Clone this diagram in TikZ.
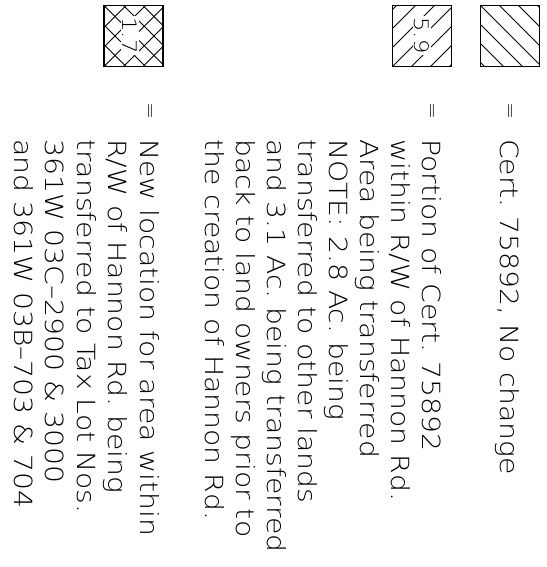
\documentclass[tikz,border=0pt]{standalone}
\usepackage{fontspec}
\newfontfamily\cad{DejaVu Sans ExtraLight}[FakeStretch=1.13]
\usetikzlibrary{calc}
\begin{document}
\begin{tikzpicture}[x=1pt,y=1pt,
  legtext/.style={rotate=-90,anchor=base west,inner sep=0pt,font=\cad\fontsize{25}{31}\selectfont},
  eqsign/.style={rotate=-90,anchor=center,inner sep=0pt,font=\cad\fontsize{18}{18}\selectfont},
  legbox/.style={draw,line width=1.5pt,minimum width=59pt,minimum height=61pt,inner sep=0pt},
  hatchline/.style={line width=0.8pt},
  boxlabel/.style={rotate=-90,anchor=center,inner sep=1.5pt,fill=white,font=\cad\fontsize{20}{20}\selectfont},
  backhatch/.style={path picture={\foreach \k in {-4,...,3}{\draw[hatchline] ($(path picture bounding box.north west)+(\k*19,0)$) -- ++(90,-90);}}},
  fwdhatch/.style={path picture={\foreach \k in {-4,...,3}{\draw[hatchline] ($(path picture bounding box.south west)+(\k*19,0)$) -- ++(90,90);}}},
  crosshatch/.style={path picture={\foreach \k in {-4,...,3}{\draw[hatchline] ($(path picture bounding box.north west)+(\k*19.5,0)$) -- ++(90,-90);
      \draw[hatchline] ($(path picture bounding box.south west)+(\k*19.5,0)$) -- ++(90,90);}}}]
\useasboundingbox (0,0) rectangle (546,567);

% legend boxes
\node[legbox,backhatch] (box1) at (510,531) {};
\node[legbox,fwdhatch] (box2) at (422,531) {};
\node[boxlabel] (lab2) at (422,531.5) {5.9};
\node[legbox,crosshatch] (box3) at (133.5,531) {};
\node[boxlabel] (lab3) at (130,531.5) {1.7};

% equals signs
\node[eqsign] (eq1) at (508,456) {=};
\node[eqsign] (eq2) at (430,456) {=};
\node[eqsign] (eq3) at (148,456) {=};

% paragraph 1
\node[legtext] (p1a) at (500,428) {Cert.\ 75892, No change};

% paragraph 2
\node[legtext] (p2a) at (422,428) {Portion of Cert.\ 75892};
\node[legtext] (p2b) at (391,428) {within R/W of Hannon Rd.};
\node[legtext] (p2c) at (360,428) {Area being transferred};
\node[legtext] (p2d) at (329,428) {NOTE: 2.8 Ac.\ being};
\node[legtext] (p2e) at (298,428) {transferred to other lands};
\node[legtext] (p2f) at (267,428) {and 3.1 Ac.\ being transferred};
\node[legtext] (p2g) at (236,428) {back to land owners prior to};
\node[legtext] (p2h) at (205,428) {the creation of Hannon Rd.};

% paragraph 3
\node[legtext] (p3a) at (140,428) {New location for area within};
\node[legtext] (p3b) at (108.5,428) {R/W of Hannon Rd.\ being};
\node[legtext] (p3c) at (77,428) {transferred to Tax Lot Nos.};
\node[legtext] (p3d) at (45.5,428) {361W 03C–2900 \& 3000};
\node[legtext] (p3e) at (14,428) {and 361W 03B–703 \& 704};
\end{tikzpicture}
\end{document}
